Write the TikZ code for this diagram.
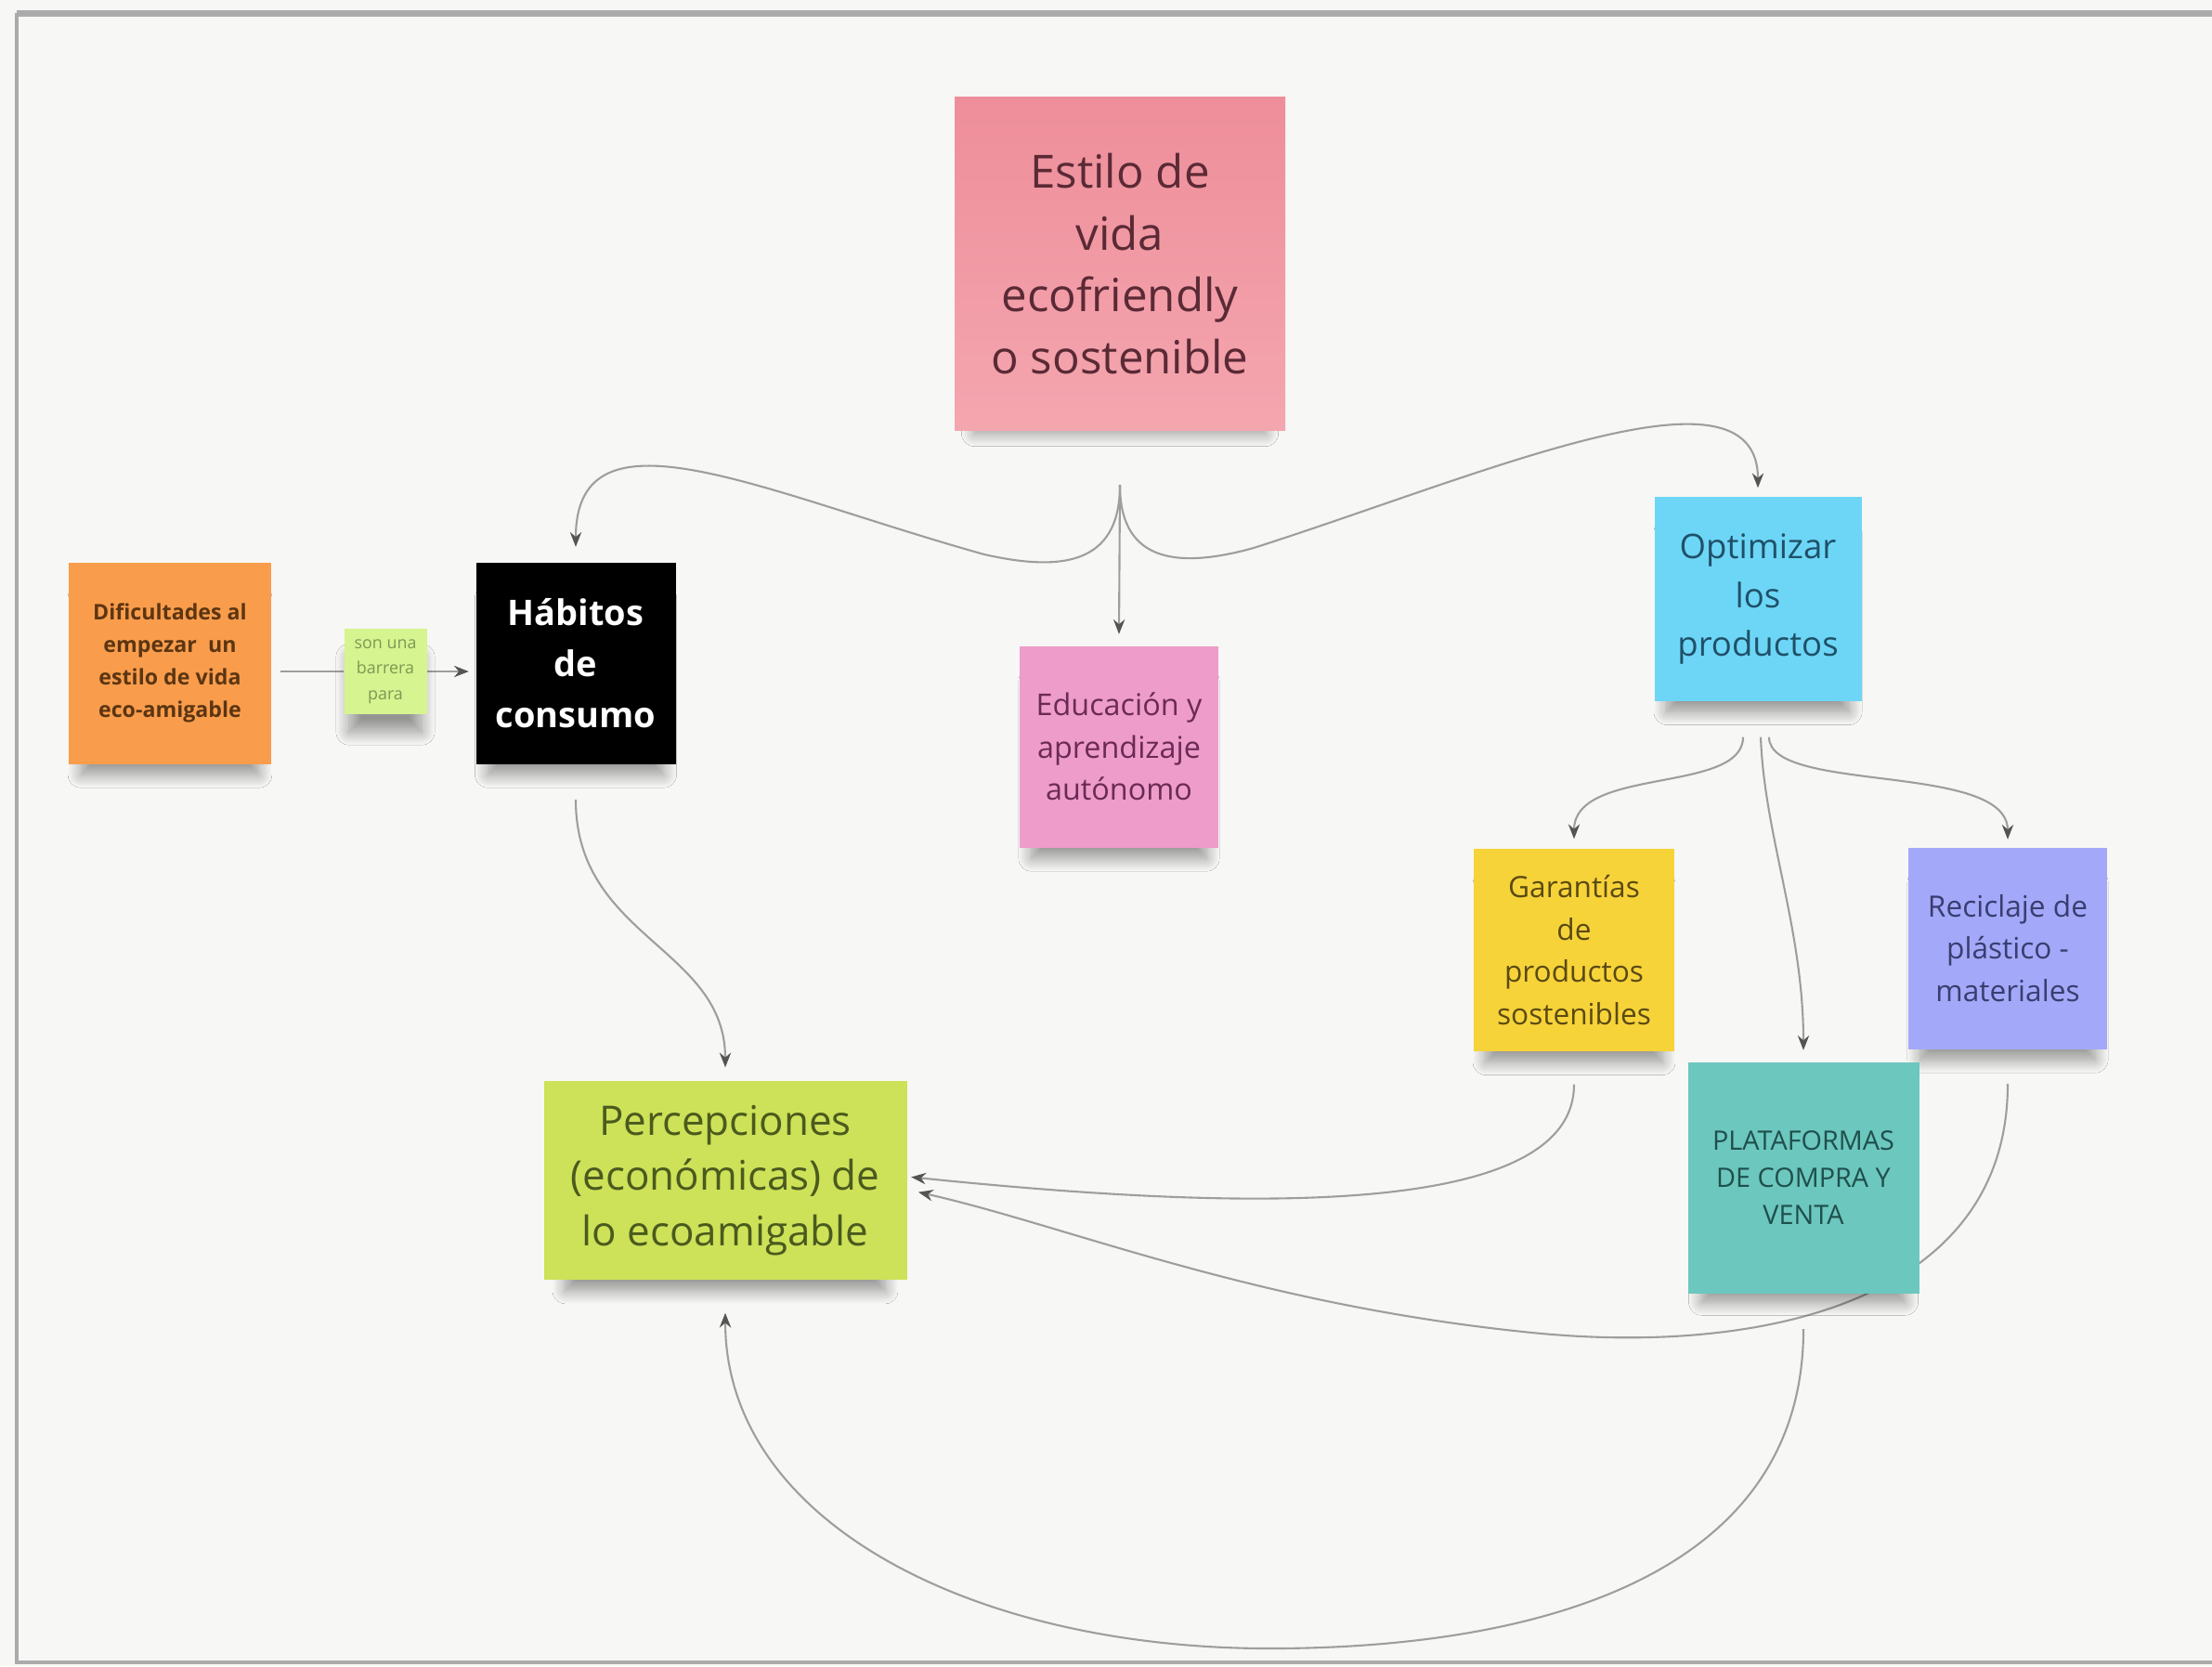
\documentclass[tikz,border=0pt]{standalone}
\usepackage{fontspec}
\setmainfont{Open Sans}
\usepackage{tikz}
\usetikzlibrary{arrows.meta, positioning, calc, shadows.blur, backgrounds}
\usepackage{xcolor}

\definecolor{paper}{HTML}{F7F7F5}
\definecolor{framegray}{HTML}{ABABAB}
\definecolor{linkgray}{HTML}{9E9E9E}
\definecolor{tipgray}{HTML}{555555}
\definecolor{rosaTop}{HTML}{EE8E9A}
\definecolor{rosaBot}{HTML}{F4A6AF}
\definecolor{naranja}{HTML}{F99D4C}
\definecolor{verdeClaro}{HTML}{D6F48F}
\definecolor{magenta}{HTML}{EE9CC9}
\definecolor{celeste}{HTML}{6DD6F6}
\definecolor{amarillo}{HTML}{F7D33A}
\definecolor{lavanda}{HTML}{A3A9F8}
\definecolor{turquesa}{HTML}{6CC7BE}
\definecolor{lima}{HTML}{CDE258}

\begin{document}
\begin{tikzpicture}[x=1cm, y=-1cm,
  note/.style={align=center, inner sep=0pt,
    blur shadow={shadow xshift=0pt, shadow yshift=-8pt, shadow scale=0.88,
      shadow blur steps=14, shadow blur radius=4.5pt, shadow opacity=40}},
  plain/.style={draw=linkgray, line width=0.6pt},
  link/.style={plain, -{Stealth[length=4.5pt, width=3.5pt, color=tipgray]}},
]
  \useasboundingbox (0,0) rectangle (23.82,17.94);

  % Sticky notes
  \node[note, top color=rosaTop, bottom color=rosaBot, minimum width=3.56cm, minimum height=3.59cm,
    text={rgb,255:red,90;green,42;blue,53}, font=\fontsize{14}{19}\selectfont] (estilo) at (12.06,2.84)
    {Estilo de\\vida\\ecofriendly\\o sostenible};
  \node[note, fill=naranja, minimum width=2.18cm, minimum height=2.17cm,
    text={rgb,255:red,92;green,53;blue,18}, font=\fontsize{6.6}{10}\selectfont\bfseries] (dific) at (1.83,7.14)
    {Dificultades al\\empezar\ \ un\\estilo de vida\\eco-amigable};
  \node[note, fill=verdeClaro, minimum width=0.89cm, minimum height=0.92cm,
    text={rgb,255:red,125;green,152;blue,85}, font=\fontsize{5.1}{7.8}\selectfont] (barrera) at (4.15,7.23)
    {son una\\barrera\\para};
  \node[note, fill=black, minimum width=2.15cm, minimum height=2.17cm,
    text=white, font=\fontsize{10.8}{15.6}\selectfont\bfseries] (habitos) at (6.2,7.14)
    {Hábitos\\de\\consumo};
  \node[note, fill=magenta, minimum width=2.14cm, minimum height=2.17cm,
    text={rgb,255:red,107;green,42;blue,85}, font=\fontsize{9.2}{13}\selectfont] (educ) at (12.05,8.04)
    {Educación y\\aprendizaje\\autónomo};
  \node[note, fill=celeste, minimum width=2.23cm, minimum height=2.2cm,
    text={rgb,255:red,31;green,80;blue,104}, font=\fontsize{10.4}{15}\selectfont] (optim) at (18.93,6.45)
    {Optimizar\\los\\productos};
  \node[note, fill=amarillo, minimum width=2.16cm, minimum height=2.18cm,
    text={rgb,255:red,90;green,74;blue,18}, font=\fontsize{9}{13}\selectfont] (garant) at (16.95,10.23)
    {Garantías\\de\\productos\\sostenibles};
  \node[note, fill=lavanda, minimum width=2.14cm, minimum height=2.17cm,
    text={rgb,255:red,58;green,61;blue,112}, font=\fontsize{9}{13}\selectfont] (recic) at (21.62,10.21)
    {Reciclaje de\\plástico -\\materiales};
  \node[note, fill=turquesa, minimum width=2.49cm, minimum height=2.49cm,
    text={rgb,255:red,31;green,79;blue,76}, font=\fontsize{8.2}{11.5}\selectfont] (plataf) at (19.42,12.68)
    {PLATAFORMAS\\DE COMPRA Y\\VENTA};
  \node[note, fill=lima, minimum width=3.91cm, minimum height=2.14cm,
    text={rgb,255:red,75;green,90;blue,30}, font=\fontsize{12.5}{17}\selectfont] (percep) at (7.81,12.71)
    {Percepciones\\(económicas) de\\lo ecoamigable};

  \begin{scope}[on background layer]
    % Board
    \fill[paper] (0,0) rectangle (23.82,17.94);
    \draw[framegray, line width=2pt] (0.18,0.14) -- (23.82,0.14);
    \draw[framegray, line width=1pt] (0.18,0.14) -- (0.18,17.9) -- (23.82,17.9);

    % Links from the main idea
    \coordinate (split) at ([yshift=-0.58cm]estilo.south);
    \draw[link] (split) .. controls (12.06,6.1) and (11.4,6.15) .. (10.6,5.97)
      .. controls (8.2,5.3) and (6.2,4.3) .. ([yshift=0.16cm]habitos.north);
    \draw[link] (split) -- ([yshift=0.12cm]educ.north);
    \draw[link] (split) .. controls (12.06,6.0) and (12.6,6.15) .. (13.5,5.9)
      .. controls (16.0,5.1) and (18.93,3.8) .. ([yshift=0.09cm]optim.north);

    % Barrier
    \draw[plain, shorten <=0.09cm] (dific.east |- barrera.west) -- (barrera.west);
    \draw[link, shorten >=0.07cm] (barrera.east) -- (barrera.east -| habitos.west);
    \draw[link] ([yshift=-0.38cm]habitos.south) .. controls (6.2,10.1) and (7.81,10.2)
      .. ([yshift=0.14cm]percep.north);

    % Products
    \draw[link] ([xshift=-0.16cm, yshift=-0.38cm]optim.south) .. controls (18.77,8.55) and (16.95,8.25)
      .. ([yshift=0.1cm]garant.north);
    \draw[link] ([xshift=0.03cm, yshift=-0.38cm]optim.south) .. controls (19.0,9.0) and (19.42,10.0)
      .. ([yshift=0.12cm]plataf.north);
    \draw[link] ([xshift=0.12cm, yshift=-0.38cm]optim.south) .. controls (19.05,8.55) and (21.62,8.2)
      .. ([yshift=0.08cm]recic.north);

    % Back to perceptions
    \draw[link, shorten >=0.04cm] ([yshift=-0.35cm]garant.south) .. controls (16.95,13.2) and (13.0,13.0)
      .. ([yshift=0.04cm]percep.east);
    \draw[link, shorten >=0.12cm] ([yshift=-0.37cm]recic.south) .. controls (21.62,14.0) and (19.0,14.6)
      .. (16.5,14.35) .. controls (13.5,14.05) and (11.5,13.2) .. ([yshift=-0.1cm]percep.east);
    \draw[link] ([yshift=-0.38cm]plataf.south) .. controls (19.42,17.0) and (16.5,17.75)
      .. (13.67,17.75) .. controls (10.5,17.75) and (7.81,16.4) .. ([yshift=-0.35cm]percep.south);
  \end{scope}
\end{tikzpicture}
\end{document}
